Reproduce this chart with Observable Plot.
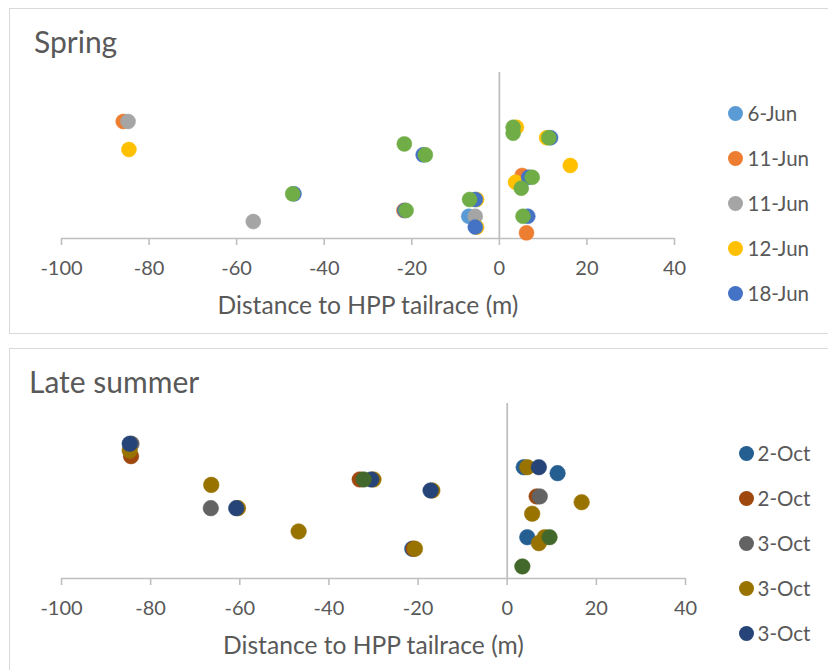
<!DOCTYPE html>
<html><head><meta charset="utf-8">
<script src="https://cdn.jsdelivr.net/npm/d3@7"></script>
<script src="https://cdn.jsdelivr.net/npm/@observablehq/plot@0.6"></script>
<style>
body{margin:0;background:#fff;width:828px;height:670px;overflow:hidden;position:relative;font-family:Lato, "Open Sans", sans-serif;color:#595959}
.frame{position:absolute;border:1px solid #d9d9d9;box-sizing:border-box;background:#fff}
.title{position:absolute;font-size:30px;line-height:30px;white-space:nowrap}
.row{position:absolute;display:flex;align-items:center;height:24px;font-size:20.5px;line-height:24px;white-space:nowrap}
.sw{width:15px;height:15px;border-radius:50%;flex:none}
.plot{position:absolute;left:0}
</style>
</head><body>
<div class="frame" style="left:9px;top:8px;width:830px;height:326px"></div>
<div class="frame" style="left:9px;top:348px;width:830px;height:340px"></div>
<div id="p1" class="plot" style="top:8px"></div>
<div id="p2" class="plot" style="top:347px"></div>
<div class="title" style="left:34px;top:26px">Spring</div>
<div class="title" style="left:29px;top:366px">Late summer</div>
<div id="lg1"></div>
<div id="lg2"></div>
<script>
// ---- data ----
const xTicks = [-100, -80, -60, -40, -20, 0, 20, 40];
const xLabel = "Distance to HPP tailrace (m)";

// Spring
const springLabels = ["6-Jun", "11-Jun", "11-Jun", "12-Jun", "18-Jun", "Series 6"];
const springColors = ["#5B9BD5", "#ED7D31", "#A5A5A5", "#FFC000", "#4472C4", "#70AD47"];
const spring6Jun = [[-7.0, 1.34]];
const spring11JunA = [[-85.9, 7.05], [-21.8, 1.69], [5.2, 3.80], [6.2, 0.34]];
const spring11JunB = [[-84.8, 7.05], [-56.2, 1.02], [-5.5, 1.34]];
const spring12Jun = [[-84.6, 5.36], [3.9, 6.70], [10.8, 6.07], [16.2, 4.40], [3.7, 3.39], [-5.2, 0.68], [-5.2, 2.35]];
const spring18Jun = [[-46.9, 2.69], [-17.4, 5.04], [-21.6, 1.69], [-5.5, 2.35], [-5.5, 0.69], [6.5, 1.34], [6.7, 3.69], [11.7, 6.07]];
const springS6 = [[-47.2, 2.69], [-21.7, 5.70], [-16.9, 5.04], [-21.3, 1.69], [-6.8, 2.35], [3.15, 6.70], [3.15, 6.34], [11.3, 6.07], [7.5, 3.69], [5.0, 3.03], [5.4, 1.34]];

// Late summer
const summerLabels = ["2-Oct", "2-Oct", "3-Oct", "3-Oct", "3-Oct", "Series 6"];
const summerColors = ["#255E91", "#9E480E", "#636363", "#997300", "#264478", "#43682B"];
const summer2OctA = [[-21.3, 1.70], [3.7, 6.36], [11.3, 6.02], [4.5, 2.36]];
const summer2OctB = [[-84.4, 6.99], [-33.1, 5.66], [-21.0, 1.70], [6.6, 4.69]];
const summer3OctA = [[-84.3, 7.70], [-66.5, 4.02], [7.3, 4.69]];
const summer3OctB = [[-84.7, 7.31], [-66.4, 5.35], [-60.4, 4.02], [-46.8, 2.69], [-30.0, 5.66], [-16.8, 5.03], [-20.7, 1.70], [4.5, 6.36], [16.7, 4.36], [5.6, 3.70], [8.4, 2.36], [7.1, 2.02]];
const summer3OctC = [[-84.7, 7.70], [-60.8, 4.02], [-30.5, 5.66], [-17.2, 5.03], [7.1, 6.36]];
const summerS6 = [[-32.2, 5.66], [9.5, 2.36], [3.4, 0.69]];

function toRows(seriesList) {
  const rows = [];
  seriesList.forEach((pts, i) => pts.forEach(([x, y]) => rows.push({x, y, s: i})));
  return rows;
}

function makePanel(el, seriesList, colors, L) {
  const rows = toRows(seriesList);
  const chart = Plot.plot({
    width: 828, height: L.height,
    marginLeft: 61, marginRight: L.mr, marginTop: L.mt, marginBottom: L.mb,
    x: {domain: [-100, 40]},
    y: {domain: [0, 10], axis: null},
    color: {domain: d3.range(colors.length), range: colors},
    style: {fontFamily: "Lato, 'Open Sans', sans-serif", color: "#595959", background: "transparent", overflow: "visible"},
    marks: [
      Plot.ruleY([0], {stroke: "#bfbfbf", strokeWidth: 1.6}),
      Plot.ruleX([0], {stroke: "#bfbfbf", strokeWidth: 1.8}),
      Plot.axisX({ticks: xTicks, tickFormat: d => String(d), tickSize: 7, tickPadding: 15, stroke: "#bfbfbf", strokeWidth: 1.6, fill: "#595959", fontSize: 20, label: null}),
      Plot.axisX({ticks: [], label: xLabel, labelAnchor: "center", labelArrow: false, labelOffset: 75, fill: "#595959", fontSize: 24.6}),
      Plot.dot(rows, {x: "x", y: "y", fill: "s", r: L.r, stroke: "s", strokeWidth: 0.5})
    ]
  });
  document.getElementById(el).appendChild(chart);
}

function makeLegend(el, labels, colors, L) {
  const box = document.getElementById(el);
  labels.slice(0, 5).forEach((lab, i) => {
    const row = document.createElement("div");
    row.className = "row";
    row.style.left = (L.cx - 7.5) + "px";
    row.style.top = (L.cy0 + i * 45 - 12) + "px";
    const sw = document.createElement("span");
    sw.className = "sw";
    sw.style.background = colors[i];
    sw.style.marginRight = L.gap + "px";
    const t = document.createElement("span");
    t.textContent = lab;
    row.appendChild(sw); row.appendChild(t);
    box.appendChild(row);
  });
}

makePanel("p1", [spring6Jun, spring11JunA, spring11JunB, spring12Jun, spring18Jun, springS6], springColors,
  {height: 325, mt: 64, mb: 95, mr: 154, r: 7.5});
makePanel("p2", [summer2OctA, summer2OctB, summer3OctA, summer3OctB, summer3OctC, summerS6], summerColors,
  {height: 323, mt: 56, mb: 92, mr: 143, r: 7.8});
makeLegend("lg1", springLabels, springColors, {cx: 735, cy0: 113, gap: 5});
makeLegend("lg2", summerLabels, summerColors, {cx: 746, cy0: 453, gap: 4});
</script>
</body></html>
